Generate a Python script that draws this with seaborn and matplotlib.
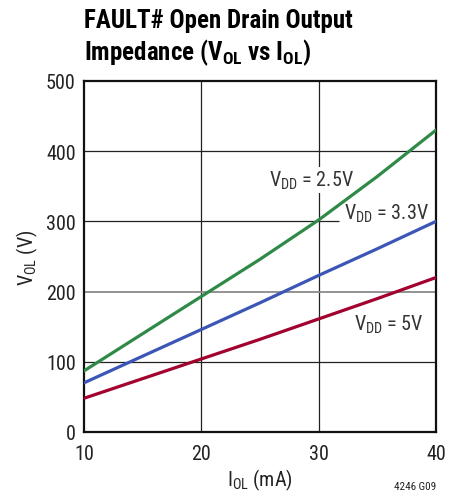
import numpy as np
import pandas as pd
import matplotlib
matplotlib.use("Agg")
import matplotlib.pyplot as plt
import seaborn as sns
from matplotlib import font_manager

# Output current (mA) and measured V_OL for each supply voltage
i_ol = [10, 15, 20, 25, 30, 35, 40]
vol_2v5 = [87, 140, 193, 246, 302, 364, 430]
vol_3v3 = [70, 108, 146, 184, 223, 261, 300]
vol_5v = [48, 76, 104, 132, 161, 190, 220]
series_names = ["VDD = 2.5V", "VDD = 3.3V", "VDD = 5V"]
x_ticks = [10, 20, 30, 40]
y_ticks = [0, 100, 200, 300, 400, 500]

sns.set_theme(style="white")
installed = {f.name for f in font_manager.fontManager.ttflist}
candidates = ["Roboto Condensed", "Liberation Sans Narrow", "Open Sans Condensed", "Roboto"]
face = next((c for c in candidates if c in installed), "Liberation Sans")
plt.rcParams["font.family"] = [face, "DejaVu Sans"]
plt.rcParams["mathtext.default"] = "regular"

df = pd.DataFrame({
    "I_OL": i_ol * 3,
    "V_OL": vol_2v5 + vol_3v3 + vol_5v,
    "VDD": [series_names[0]] * len(i_ol) + [series_names[1]] * len(i_ol) + [series_names[2]] * len(i_ol),
})
palette = {series_names[0]: "#2f8a48", series_names[1]: "#3b56b6", series_names[2]: "#a2002e"}

fig = plt.figure(figsize=(4.69, 5.02), dpi=100)
ax = fig.add_axes([0.1791, 0.1375, 0.7505, 0.6992])

# grid
for xv in x_ticks[1:-1]:
    ax.axvline(xv, color="#222222", lw=0.9, zorder=1)
for yv in y_ticks[1:-1]:
    c = "#8a8a8a" if yv == 200 else "#222222"
    lw = 1.3 if yv == 200 else 0.9
    if yv == 300:
        ax.plot([10, 31.7], [yv, yv], color=c, lw=lw, zorder=1, solid_capstyle="butt")
    else:
        ax.axhline(yv, color=c, lw=lw, zorder=1)

sns.lineplot(data=df, x="I_OL", y="V_OL", hue="VDD", palette=palette,
             linewidth=2.3, legend=False, ax=ax, zorder=3)

ax.set_xlim(10, 40)
ax.set_ylim(0, 500)
ax.set_xticks(x_ticks)
ax.set_yticks(y_ticks)
ax.tick_params(axis="both", length=0, labelsize=14.5, colors="#222222")
ax.tick_params(axis="x", pad=9)
ax.tick_params(axis="y", pad=6)
for s in ax.spines.values():
    s.set_color("#111111")
    s.set_linewidth(1.6)
    s.set_visible(True)

ax.set_xlabel("$I_{OL}$ (mA)", fontsize=14.5, color="#222222", labelpad=2)
ax.set_ylabel("$V_{OL}$ (V)", fontsize=14.5, color="#222222", labelpad=4)

# curve labels
box = dict(facecolor="white", edgecolor="none", pad=1.5)
ax.text(29.4, 359, "$V_{DD}$ = 2.5V", fontsize=14.5, color="#333333", ha="center", va="center", bbox=box, zorder=2)
ax.text(32.2, 312, "$V_{DD}$ = 3.3V", fontsize=14.5, color="#333333", ha="left", va="center", bbox=box, zorder=2)
ax.text(33.0, 154, "$V_{DD}$ = 5V", fontsize=14.5, color="#333333", ha="left", va="center", zorder=2)

fig.text(0.179, 0.982, "FAULT# Open Drain Output\nImpedance ($V_{OL}$ vs $I_{OL}$)",
         fontsize=18, fontweight="bold", ha="left", va="top", color="black", linespacing=1.2)
fig.text(0.929, 0.02, "4246 G09", fontsize=8, ha="right", va="bottom", color="#222222")

fig.savefig("out.png", dpi=100)
